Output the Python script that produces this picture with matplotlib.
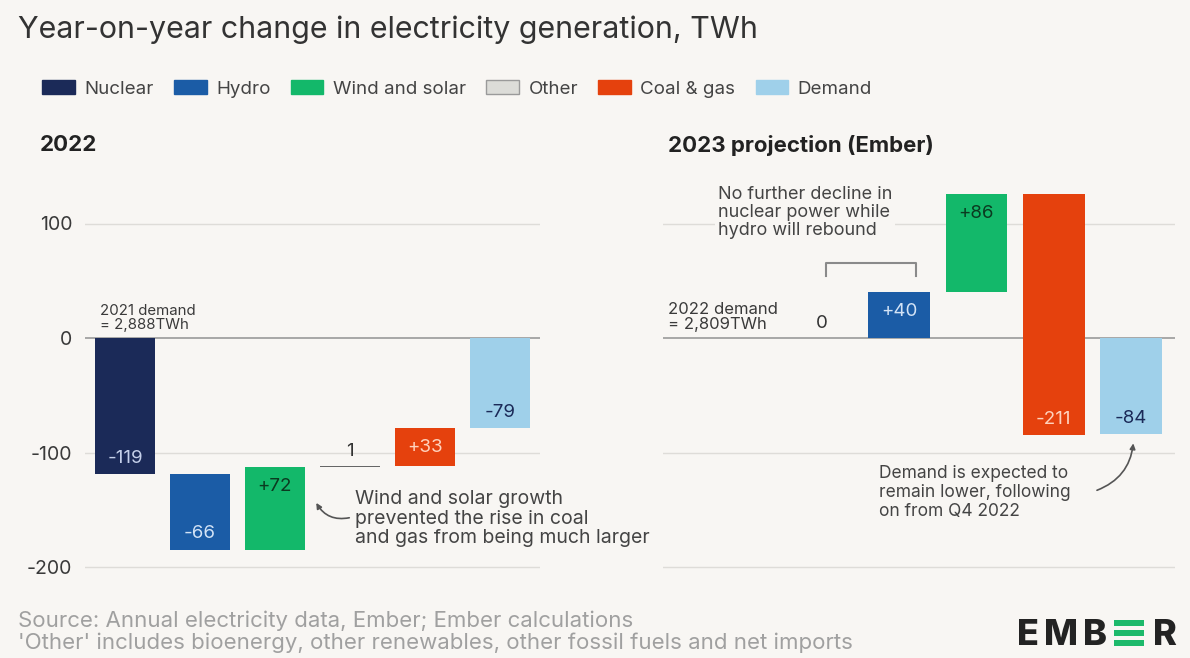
import matplotlib.pyplot as plt
from matplotlib.patches import Rectangle

plt.rcParams['font.family'] = ['Inter', 'DejaVu Sans']
plt.rcParams['axes.unicode_minus'] = False

BG = '#f8f6f3'
TEXT = '#3a3a3a'

legend_labels = ['Nuclear', 'Hydro', 'Wind and solar', 'Other', 'Coal & gas', 'Demand']
legend_colors = ['#1b2a58', '#1b5ca6', '#13b86a', '#dcdcd8', '#e5410d', '#9fd0ea']
label_colors = {'Nuclear': '#c5d0ea', 'Hydro': '#d3e3f6', 'Wind and solar': '#0b3a20',
                'Other': '#333333', 'Coal & gas': '#ffd2bd', 'Demand': '#1b2a58'}

# 2022 year-on-year change, TWh
cats_2022 = ['Nuclear', 'Hydro', 'Wind and solar', 'Other', 'Coal & gas', 'Demand']
vals_2022 = [-119, -66, 72, 1, 33, -79]

# 2023 projection, TWh
cats_2023 = ['Nuclear', 'Hydro', 'Wind and solar', 'Coal & gas', 'Demand']
vals_2023 = [0, 40, 86, -211, -84]

yticks = [100, 0, -100, -200]

W, H = 1190, 658
fig = plt.figure(figsize=(W / 100, H / 100), dpi=100, facecolor=BG)

px_per_unit = 1.145
y0_px = 338
ylim = (-220, 140)


def make_axes(left_px, right_px):
    bottom_px = y0_px - ylim[0] * px_per_unit
    height_px = (ylim[1] - ylim[0]) * px_per_unit
    ax = fig.add_axes([left_px / W, 1 - bottom_px / H, (right_px - left_px) / W, height_px / H])
    ax.set_facecolor('none')
    ax.set_ylim(*ylim)
    for s in ax.spines.values():
        s.set_visible(False)
    ax.set_xticks([])
    ax.set_yticks(yticks)
    ax.tick_params(axis='y', length=0, pad=9, labelsize=14, labelcolor=TEXT)
    for t in yticks:
        ax.axhline(t, color='#9a9a9a' if t == 0 else '#dedcd8', lw=1.2 if t == 0 else 1.0, zorder=0)
    return ax


def fmt(v):
    return str(v) if abs(v) <= 1 else f'{v:+d}'


def waterfall(ax, cats, vals):
    run = 0
    for i, (c, v) in enumerate(zip(cats, vals)):
        if c == 'Demand':
            base = 0
        else:
            base = run
            run += v
        col = legend_colors[legend_labels.index(c)]
        lo, hi = min(base, base + v), max(base, base + v)
        if abs(v) <= 1:
            # near-zero changes: a thin rule with the value above it
            if v != 0:
                ax.bar(i, hi - lo, bottom=lo, width=0.8, color='#666666', zorder=3)
            ax.annotate(fmt(v), (i, hi), xytext=(0, 10.5), textcoords='offset points',
                        ha='center', va='center', fontsize=13.5, color='#333333', zorder=4)
            continue
        ax.bar(i, hi - lo, bottom=lo, width=0.8, color=col, zorder=3)
        if v > 0:
            ax.annotate(fmt(v), (i, hi), xytext=(0, -14), textcoords='offset points',
                        ha='center', va='center', fontsize=13.5, color=label_colors[c], zorder=4)
        else:
            ax.annotate(fmt(v), (i, lo), xytext=(0, 11.5), textcoords='offset points',
                        ha='center', va='center', fontsize=13.5, color=label_colors[c], zorder=4)


# left panel: 2022
ax1 = make_axes(85, 540)
ax1.set_xlim(-0.533, 5.533)
waterfall(ax1, cats_2022, vals_2022)
ax1.text(-0.33, 5, '2021 demand\n= 2,888TWh', fontsize=10.8, color=TEXT, va='bottom', ha='left',
         linespacing=1.05)
ax1.text(3.07, -133, 'Wind and solar growth\nprevented the rise in coal\nand gas from being much larger',
         fontsize=14, color='#444444', va='top', ha='left', linespacing=1.1)
ax1.annotate('', xy=(2.55, -144), xytext=(2.99, -157),
             arrowprops=dict(arrowstyle='-|>', color='#555555', lw=1.2, mutation_scale=8,
                             connectionstyle='arc3,rad=-0.35', shrinkA=0, shrinkB=0))

# right panel: 2023 projection
ax2 = make_axes(663, 1175)
ax2.set_xlim(-2.058, 4.57)
ax2.set_yticklabels([])
waterfall(ax2, cats_2023, vals_2023)
ax2.text(-1.99, 5, '2022 demand\n= 2,809TWh', fontsize=12, color=TEXT, va='bottom', ha='left',
         linespacing=1.0)
ax2.text(-1.35, 133, 'No further decline in\nnuclear power while\nhydro will rebound',
         fontsize=13, color='#444444', va='top', ha='left', linespacing=1.1,
         bbox=dict(facecolor=BG, edgecolor='none', pad=2), zorder=2)
ax2.plot([0.05, 0.05, 1.22, 1.22], [54, 65.5, 65.5, 54], color='#8a8a8a', lw=1.5)
ax2.text(0.74, -111, 'Demand is expected to\nremain lower, following\non from Q4 2022',
         fontsize=12.5, color='#444444', va='top', ha='left', linespacing=1.15)
ax2.annotate('', xy=(4.03, -92), xytext=(3.56, -133),
             arrowprops=dict(arrowstyle='-|>', color='#555555', lw=1.2, mutation_scale=8,
                             connectionstyle='arc3,rad=0.3', shrinkA=0, shrinkB=0))

# titles
fig.text(18 / W, 1 - 30 / H, 'Year-on-year change in electricity generation, TWh',
         fontsize=21.9, color='#333333', va='center', ha='left')
fig.text(40 / W, 1 - 145 / H, '2022', fontsize=16, fontweight='bold', color='#222222', va='center')
fig.text(668 / W, 1 - 145 / H, '2023 projection (Ember)', fontsize=16, fontweight='bold',
         color='#222222', va='center')

# legend
handles = [Rectangle((0, 0), 1, 1, facecolor=c, edgecolor='#9a9a9a' if l == 'Other' else c, lw=1)
           for l, c in zip(legend_labels, legend_colors)]
fig.legend(handles, legend_labels, loc='center left', bbox_to_anchor=(25 / W, 1 - 89 / H),
           ncol=6, frameon=False, fontsize=13.5, handlelength=1.75, handleheight=0.73,
           handletextpad=0.5, columnspacing=1.08, labelcolor='#444444')

# footer
fig.text(18 / W, 1 - 621 / H, 'Source: Annual electricity data, Ember; Ember calculations',
         fontsize=16, color='#a0a0a0', va='center')
fig.text(18 / W, 1 - 643 / H, "'Other' includes bioenergy, other renewables, other fossil fuels and net imports",
         fontsize=16, color='#a0a0a0', va='center')

# logo
for ch, xpx in (('E', 1017), ('M', 1044), ('B', 1083), ('R', 1153)):
    fig.text(xpx / W, 1 - 645 / H, ch, fontsize=26, fontweight='heavy', color='#232323',
             va='baseline', ha='left')
for ytop in (620, 630, 640):
    fig.patches.append(Rectangle((1114 / W, 1 - (ytop + 5.5) / H), 30 / W, 5.5 / H,
                                 transform=fig.transFigure, facecolor='#1db96b', edgecolor='none'))

fig.savefig('out.png', dpi=100, facecolor=BG)
